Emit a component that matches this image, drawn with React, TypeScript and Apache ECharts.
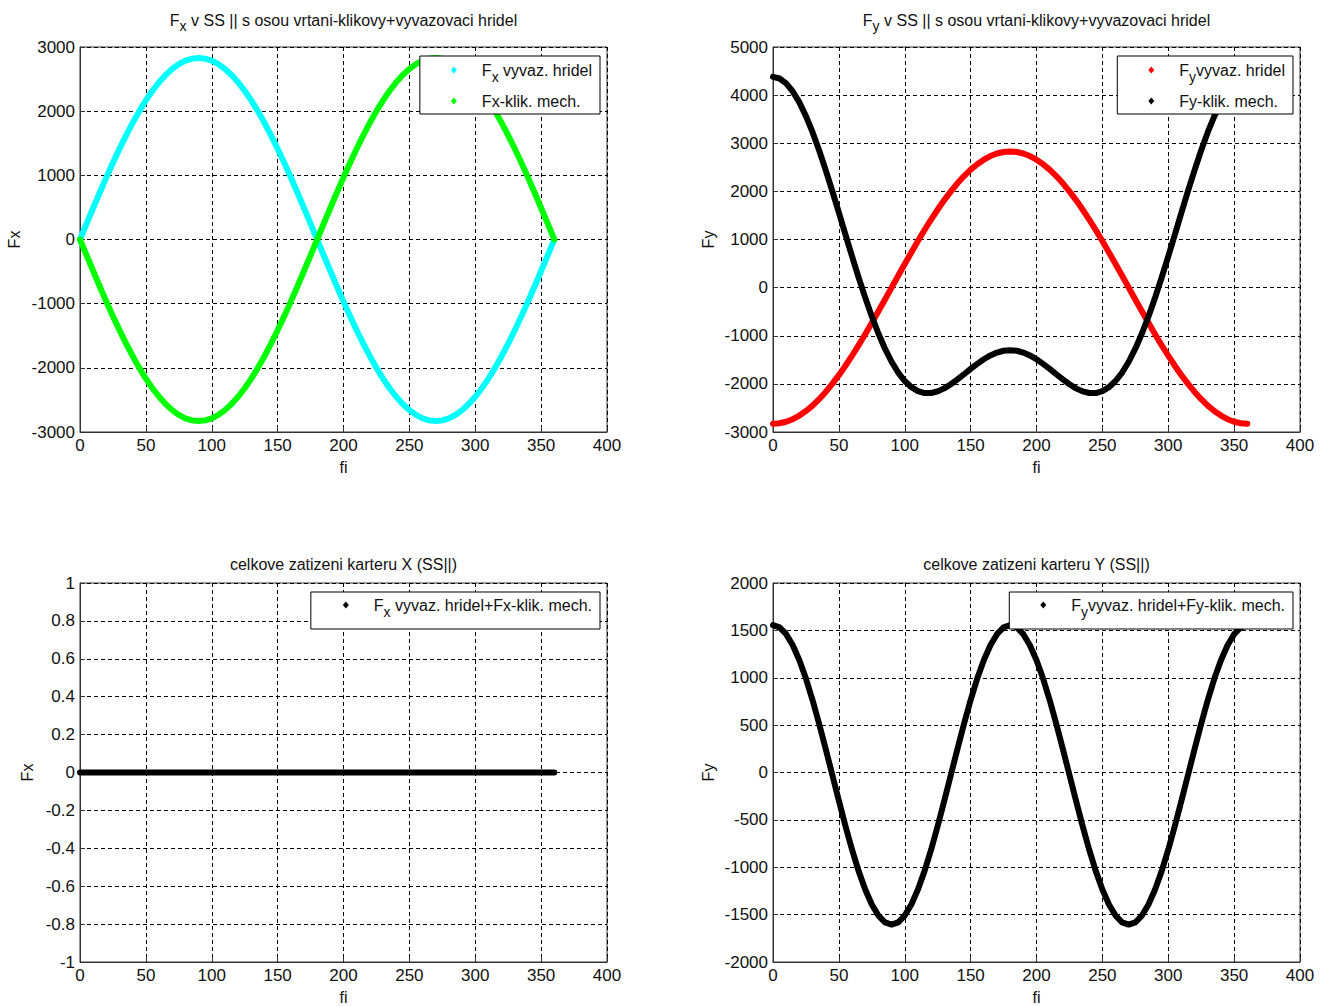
import React, { useEffect, useRef } from 'react';
import * as echarts from 'echarts';

const FI = [0, 5, 10, 15, 20, 25, 30, 35, 40, 45, 50, 55, 60, 65, 70, 75, 80, 85, 90, 95, 100, 105, 110, 115, 120, 125, 130, 135, 140, 145, 150, 155, 160, 165, 170, 175, 180, 185, 190, 195, 200, 205, 210, 215, 220, 225, 230, 235, 240, 245, 250, 255, 260, 265, 270, 275, 280, 285, 290, 295, 300, 305, 310, 315, 320, 325, 330, 335, 340, 345, 350, 355, 360];

const FX_VYVAZ = [0, 247, 491, 732, 968, 1196, 1415, 1623, 1819, 2001, 2168, 2318, 2451, 2565, 2659, 2734, 2787, 2819, 2830,
  2819, 2787, 2734, 2659, 2565, 2451, 2318, 2168, 2001, 1819, 1623, 1415, 1196, 968, 732, 491, 247, 0,
  -247, -491, -732, -968, -1196, -1415, -1623, -1819, -2001, -2168, -2318, -2451, -2565, -2659, -2734, -2787, -2819, -2830,
  -2819, -2787, -2734, -2659, -2565, -2451, -2318, -2168, -2001, -1819, -1623, -1415, -1196, -968, -732, -491, -247, 0];

const FX_KLIK = [0, -247, -491, -732, -968, -1196, -1415, -1623, -1819, -2001, -2168, -2318, -2451, -2565, -2659, -2734, -2787, -2819, -2830,
  -2819, -2787, -2734, -2659, -2565, -2451, -2318, -2168, -2001, -1819, -1623, -1415, -1196, -968, -732, -491, -247, 0,
  247, 491, 732, 968, 1196, 1415, 1623, 1819, 2001, 2168, 2318, 2451, 2565, 2659, 2734, 2787, 2819, 2830,
  2819, 2787, 2734, 2659, 2565, 2451, 2318, 2168, 2001, 1819, 1623, 1415, 1196, 968, 732, 491, 247, 0];

const FY_VYVAZ = [-2830, -2819, -2787, -2734, -2659, -2565, -2451, -2318, -2168, -2001, -1819, -1623, -1415, -1196, -968, -732, -491, -247, 0,
  247, 491, 732, 968, 1196, 1415, 1623, 1819, 2001, 2168, 2318, 2451, 2565, 2659, 2734, 2787, 2819, 2830,
  2819, 2787, 2734, 2659, 2565, 2451, 2318, 2168, 2001, 1819, 1623, 1415, 1196, 968, 732, 491, 247, 0,
  -247, -491, -732, -968, -1196, -1415, -1623, -1819, -2001, -2168, -2318, -2451, -2565, -2659, -2734, -2787, -2819, -2830];

const FY_KLIK = [4380, 4346, 4244, 4077, 3849, 3564, 3229, 2854, 2442, 2008, 1559, 1102, 650, 210, -209, -599, -954, -1269, -1540,
  -1765, -1940, -2069, -2151, -2190, -2190, -2156, -2093, -2008, -1908, -1800, -1689, -1584, -1489, -1409, -1350, -1312, -1300,
  -1312, -1350, -1409, -1489, -1584, -1689, -1800, -1908, -2008, -2093, -2156, -2190, -2190, -2151, -2069, -1940, -1765, -1540,
  -1269, -954, -599, -209, 210, 650, 1102, 1559, 2008, 2442, 2854, 3229, 3564, 3849, 4077, 4244, 4346, 4380];

const FX_SUM = [0, 0, 0, 0, 0, 0, 0, 0, 0, 0, 0, 0, 0, 0, 0, 0, 0, 0, 0,
  0, 0, 0, 0, 0, 0, 0, 0, 0, 0, 0, 0, 0, 0, 0, 0, 0, 0,
  0, 0, 0, 0, 0, 0, 0, 0, 0, 0, 0, 0, 0, 0, 0, 0, 0, 0,
  0, 0, 0, 0, 0, 0, 0, 0, 0, 0, 0, 0, 0, 0, 0, 0, 0, 0];

const FY_SUM = [1555, 1531, 1460, 1343, 1185, 991, 765, 515, 249, -25, -299, -565, -815, -1041, -1235, -1393, -1510, -1581, -1605,
  -1581, -1510, -1393, -1235, -1041, -815, -565, -299, -25, 249, 515, 765, 991, 1185, 1343, 1460, 1531, 1555,
  1531, 1460, 1343, 1185, 991, 765, 515, 249, -25, -299, -565, -815, -1041, -1235, -1393, -1510, -1581, -1605,
  -1581, -1510, -1393, -1235, -1041, -815, -565, -299, -25, 249, 515, 765, 991, 1185, 1343, 1460, 1531, 1555];

const X_TICKS = { min: 0, max: 400, interval: 50 };
const Y_RANGES = [
  { min: -3000, max: 3000, interval: 1000, name: 'Fx' },
  { min: -3000, max: 5000, interval: 1000, name: 'Fy' },
  { min: -1, max: 1, interval: 0.2, name: 'Fx' },
  { min: -2000, max: 2000, interval: 500, name: 'Fy' },
];

const TITLES = [
  '{n|F}{s|x}{n| v SS || s osou vrtani-klikovy+vyvazovaci hridel}',
  '{n|F}{s|y}{n| v SS || s osou vrtani-klikovy+vyvazovaci hridel}',
  '{n|celkove zatizeni karteru X (SS||)}',
  '{n|celkove zatizeni karteru Y (SS||)}',
];

const SERIES_NAMES = [
  'Fx vyvaz. hridel', 'Fx-klik. mech.',
  'Fy vyvaz. hridel', 'Fy-klik. mech.',
  'Fx vyvaz. hridel+Fx-klik. mech.',
  'Fy vyvaz. hridel+Fy-klik. mech.',
];

const LEGEND_LABELS: Record<string, string> = {
  'Fx vyvaz. hridel': '{g|}{n|F}{s|x}{n| vyvaz. hridel}',
  'Fx-klik. mech.': '{g|}{n|Fx-klik. mech.}',
  'Fy vyvaz. hridel': '{g|}{n|F}{s|y}{n|vyvaz. hridel}',
  'Fy-klik. mech.': '{g|}{n|Fy-klik. mech.}',
  'Fx vyvaz. hridel+Fx-klik. mech.': '{g|}{n|F}{s|x}{n| vyvaz. hridel+Fx-klik. mech.}',
  'Fy vyvaz. hridel+Fy-klik. mech.': '{g|}{n|F}{s|y}{n|vyvaz. hridel+Fy-klik. mech.}',
};

const FONT = '"Liberation Sans", Arial, sans-serif';

function buildOption() {
  const W = 527, H = 385;
  const grids = [
    { left: 80, top: 47 }, { left: 773, top: 47 },
    { left: 80, top: 583 }, { left: 773, top: 583 },
  ];
  const yNameGaps = [58, 57, 45, 57];
  const dash = { type: [4, 3], color: '#000', width: 1 };
  const axisLine = { show: true, onZero: false, lineStyle: { color: '#333', width: 1 } };
  const labelStyle = { color: '#111', fontFamily: FONT, fontSize: 17 };
  const fmt = (v: number) => String(Number(v.toFixed(6)));

  const rich = {
    n: { fontFamily: FONT, fontSize: 16, fontWeight: 'normal', color: '#111', lineHeight: 28, verticalAlign: 'middle' },
    s: { fontFamily: FONT, fontSize: 14, fontWeight: 'normal', color: '#111', verticalAlign: 'bottom' },
    g: { width: 20 },
  };

  const titleRich = {
    n: { fontFamily: FONT, fontSize: 16, fontWeight: 'normal', color: '#111', lineHeight: 26, verticalAlign: 'middle' },
    s: { fontFamily: FONT, fontSize: 14, fontWeight: 'normal', color: '#111', verticalAlign: 'bottom' },
  };

  const title = grids.map((g, i) => ({
    text: TITLES[i],
    left: g.left + W / 2,
    top: i < 2 ? 7 : 551,
    textAlign: 'center',
    textStyle: { rich: titleRich, fontWeight: 'normal' },
    padding: 0,
  }));

  const seriesDefs = [
    { name: SERIES_NAMES[0], grid: 0, data: FX_VYVAZ, color: '#00ffff' },
    { name: SERIES_NAMES[1], grid: 0, data: FX_KLIK, color: '#00ff00' },
    { name: SERIES_NAMES[2], grid: 1, data: FY_VYVAZ, color: '#ff0000' },
    { name: SERIES_NAMES[3], grid: 1, data: FY_KLIK, color: '#000000' },
    { name: SERIES_NAMES[4], grid: 2, data: FX_SUM, color: '#000000' },
    { name: SERIES_NAMES[5], grid: 3, data: FY_SUM, color: '#000000' },
  ];

  const legendPos = [
    { right: 726, top: 56, names: [SERIES_NAMES[0], SERIES_NAMES[1]], pad: [6, 8, 5, 31] },
    { right: 33, top: 56, names: [SERIES_NAMES[2], SERIES_NAMES[3]], pad: [6, 8, 5, 31] },
    { right: 726, top: 592, names: [SERIES_NAMES[4]], pad: [5, 8, 10, 32] },
    { right: 33, top: 592, names: [SERIES_NAMES[5]], pad: [5, 8, 10, 31] },
  ];

  return {
    animation: false,
    backgroundColor: '#ffffff',
    title,
    grid: grids.map((g) => ({
      left: g.left, top: g.top, width: W, height: H,
      show: true, borderColor: '#333', borderWidth: 1, backgroundColor: 'transparent',
    })),
    legend: legendPos.map((l) => ({
      right: l.right,
      top: l.top,
      orient: 'vertical',
      data: l.names.map((n) => ({ name: n, icon: 'diamond' })),
      itemWidth: 6,
      itemHeight: 7,
      itemGap: 9,
      padding: l.pad,
      backgroundColor: '#ffffff',
      borderColor: '#000',
      borderWidth: 1,
      borderRadius: 0,
      selectedMode: false,
      formatter: (name: string) => LEGEND_LABELS[name],
      textStyle: { rich },
      z: 10,
    })),
    xAxis: grids.map((_, i) => ({
      type: 'value',
      gridIndex: i,
      min: X_TICKS.min,
      max: X_TICKS.max,
      interval: X_TICKS.interval,
      name: 'fi',
      nameLocation: 'middle',
      nameGap: 27,
      nameTextStyle: { color: '#111', fontFamily: FONT, fontSize: 16 },
      axisLine,
      axisTick: { show: true, inside: true, length: 5, lineStyle: { color: '#333' } },
      axisLabel: { ...labelStyle, margin: 5, formatter: fmt },
      splitLine: { show: true, lineStyle: dash },
    })),
    yAxis: Y_RANGES.map((r, i) => ({
      type: 'value',
      gridIndex: i,
      min: r.min,
      max: r.max,
      interval: r.interval,
      name: r.name,
      nameLocation: 'middle',
      nameGap: yNameGaps[i],
      nameRotate: 90,
      nameTextStyle: { color: '#111', fontFamily: FONT, fontSize: 16 },
      axisLine,
      axisTick: { show: true, inside: true, length: 5, lineStyle: { color: '#333' } },
      axisLabel: { ...labelStyle, margin: 5, formatter: fmt },
      splitLine: { show: true, lineStyle: dash },
    })),
    series: seriesDefs.map((s) => ({
      type: 'line',
      name: s.name,
      xAxisIndex: s.grid,
      yAxisIndex: s.grid,
      data: FI.map((x, i) => [x, s.data[i]]),
      showSymbol: false,
      symbol: 'diamond',
      itemStyle: { color: s.color },
      lineStyle: { color: s.color, width: 6, cap: 'round', join: 'round' },
      clip: false,
      z: 3,
    })),
  };
}

export default function App() {
  const ref = useRef<HTMLDivElement>(null);
  useEffect(() => {
    document.body.style.margin = '0';
    const chart = echarts.init(ref.current!, null, { renderer: 'svg' });
    chart.setOption(buildOption() as any);
    return () => chart.dispose();
  }, []);
  return <div ref={ref} style={{ width: 1326, height: 1006 }} />;
}
